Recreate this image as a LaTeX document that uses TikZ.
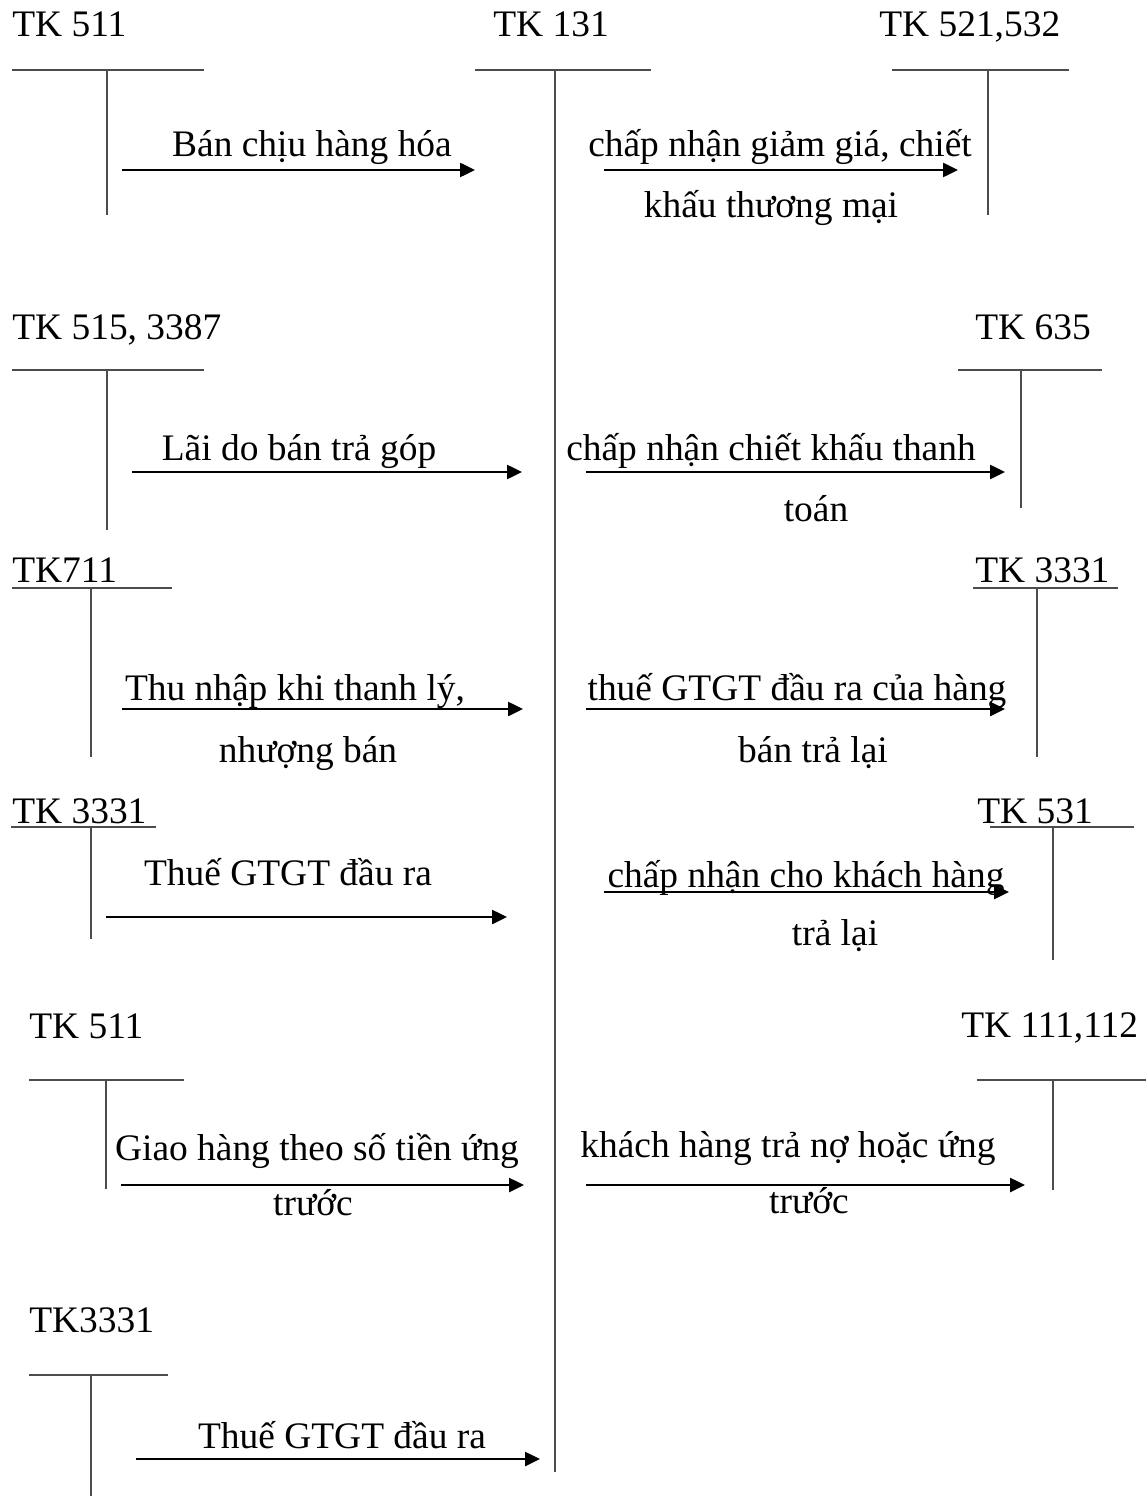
\documentclass[tikz,border=0pt]{standalone}
\usepackage{fontspec}
\setmainfont{Liberation Serif}
\usetikzlibrary{arrows.meta, positioning}
\tikzset{
    tline/.style={draw=black!70, line width=1.2pt},
    arrow/.style={line width=1.2pt, -{Triangle[length=8.5pt,width=8pt]}},
    acct/.style={anchor=base west, inner sep=0pt},
    lbl/.style={anchor=base, inner sep=0pt}
}

\begin{document}
\begin{tikzpicture}[x=0.02cm, y=-0.02cm, font=\fontsize{21.3}{25}\selectfont]
    \useasboundingbox (0,0) rectangle (1146,1496);

    % TK 131 in the middle
    \node (k131) [acct] at (493,37) {TK 131};
    \draw [tline] (475,70) -- (651,70);
    \draw [tline] (555,70) -- (555,1472);

    % accounts on the left
    \node (k511) [acct] at (12,37) {TK 511};
    \draw [tline] (12,70) -- (204,70);
    \draw [tline] (107,70) -- (107,215);

    \node (k515) [acct] at (12,340) {TK 515, 3387};
    \draw [tline] (12,370) -- (204,370);
    \draw [tline] (107,370) -- (107,530);

    \node (k711) [acct] at (12,582) {TK711};
    \draw [tline] (12,588) -- (172,588);
    \draw [tline] (91,588) -- (91,757);

    \node (k3331a) [acct] at (12,823) {TK 3331};
    \draw [tline] (11,827) -- (156,827);
    \draw [tline] (91,827) -- (91,939);

    \node (k511b) [acct] at (29,1038) {TK 511};
    \draw [tline] (29,1080) -- (184,1080);
    \draw [tline] (106,1080) -- (106,1189);

    \node (k3331c) [acct] at (29,1332) {TK3331};
    \draw [tline] (29,1375) -- (168,1375);
    \draw [tline] (91,1375) -- (91,1496);

    % accounts on the right
    \node (k521) [acct] at (879,37) {TK 521,532};
    \draw [tline] (892,70) -- (1069,70);
    \draw [tline] (988,70) -- (988,215);

    \node (k635) [acct] at (975,340) {TK 635};
    \draw [tline] (958,370) -- (1102,370);
    \draw [tline] (1021,370) -- (1021,508);

    \node (k3331b) [acct] at (975,582) {TK 3331};
    \draw [tline] (973,588) -- (1118,588);
    \draw [tline] (1037,588) -- (1037,757);

    \node (k531) [acct] at (977,823) {TK 531};
    \draw [tline] (990,827) -- (1134,827);
    \draw [tline] (1053,827) -- (1053,960);

    \node (k111) [acct] at (961,1037) {TK 111,112};
    \draw [tline] (977,1080) -- (1146,1080);
    \draw [tline] (1053,1080) -- (1053,1190);

    % entries into TK 131
    \coordinate (s1) at (122,170);  \coordinate (e1) at (475,170);
    \coordinate (s3) at (132,472);  \coordinate (e3) at (522,472);
    \coordinate (s5) at (122,709);  \coordinate (e5) at (523,709);
    \coordinate (s7) at (106,917);  \coordinate (e7) at (507,917);
    \coordinate (s9) at (121,1185); \coordinate (e9) at (524,1185);
    \coordinate (s11) at (136,1459); \coordinate (e11) at (540,1459);
    \draw [arrow] (s1) -- (e1);
    \draw [arrow] (s3) -- (e3);
    \draw [arrow] (s5) -- (e5);
    \draw [arrow] (s7) -- (e7);
    \draw [arrow] (s9) -- (e9);
    \draw [arrow] (s11) -- (e11);

    \node (t1) [lbl] at (312,157) {Bán chịu hàng hóa};
    \node (t3) [lbl] at (299,460) {Lãi do bán trả góp};
    \node (t5) [lbl] at (295,700) {Thu nhập khi thanh lý,};
    \node (t5b) [lbl] at (308,762) {nhượng bán};
    \node (t7) [lbl] at (288,885) {Thuế GTGT đầu ra};
    \node (t9) [lbl] at (317,1160) {Giao hàng theo số tiền ứng};
    \node (t9b) [lbl] at (313,1215) {trước};
    \node (t11) [lbl] at (342,1448) {Thuế GTGT đầu ra};

    % entries out of TK 131
    \coordinate (s2) at (604,170);  \coordinate (e2) at (958,170);
    \coordinate (s4) at (586,472);  \coordinate (e4) at (1005,472);
    \coordinate (s6) at (586,709);  \coordinate (e6) at (1005,709);
    \coordinate (s8) at (604,892);  \coordinate (e8) at (1009,892);
    \coordinate (s10) at (586,1185); \coordinate (e10) at (1025,1185);
    \draw [arrow] (s2) -- (e2);
    \draw [arrow] (s4) -- (e4);
    \draw [arrow] (s6) -- (e6);
    \draw [arrow] (s8) -- (e8);
    \draw [arrow] (s10) -- (e10);

    \node (t2) [lbl] at (780,157) {chấp nhận giảm giá, chiết};
    \node (t2b) [lbl] at (771,218) {khấu thương mại};
    \node (t4) [lbl] at (771,460) {chấp nhận chiết khấu thanh};
    \node (t4b) [lbl] at (816,521) {toán};
    \node (t6) [lbl] at (797,700) {thuế GTGT đầu ra của hàng};
    \node (t6b) [lbl] at (813,762) {bán trả lại};
    \node (t8) [lbl] at (806,887) {chấp nhận cho khách hàng};
    \node (t8b) [lbl] at (835,945) {trả lại};
    \node (t10) [lbl] at (788,1157) {khách hàng trả nợ hoặc ứng};
    \node (t10b) [lbl] at (809,1213) {trước};
\end{tikzpicture}
\end{document}
